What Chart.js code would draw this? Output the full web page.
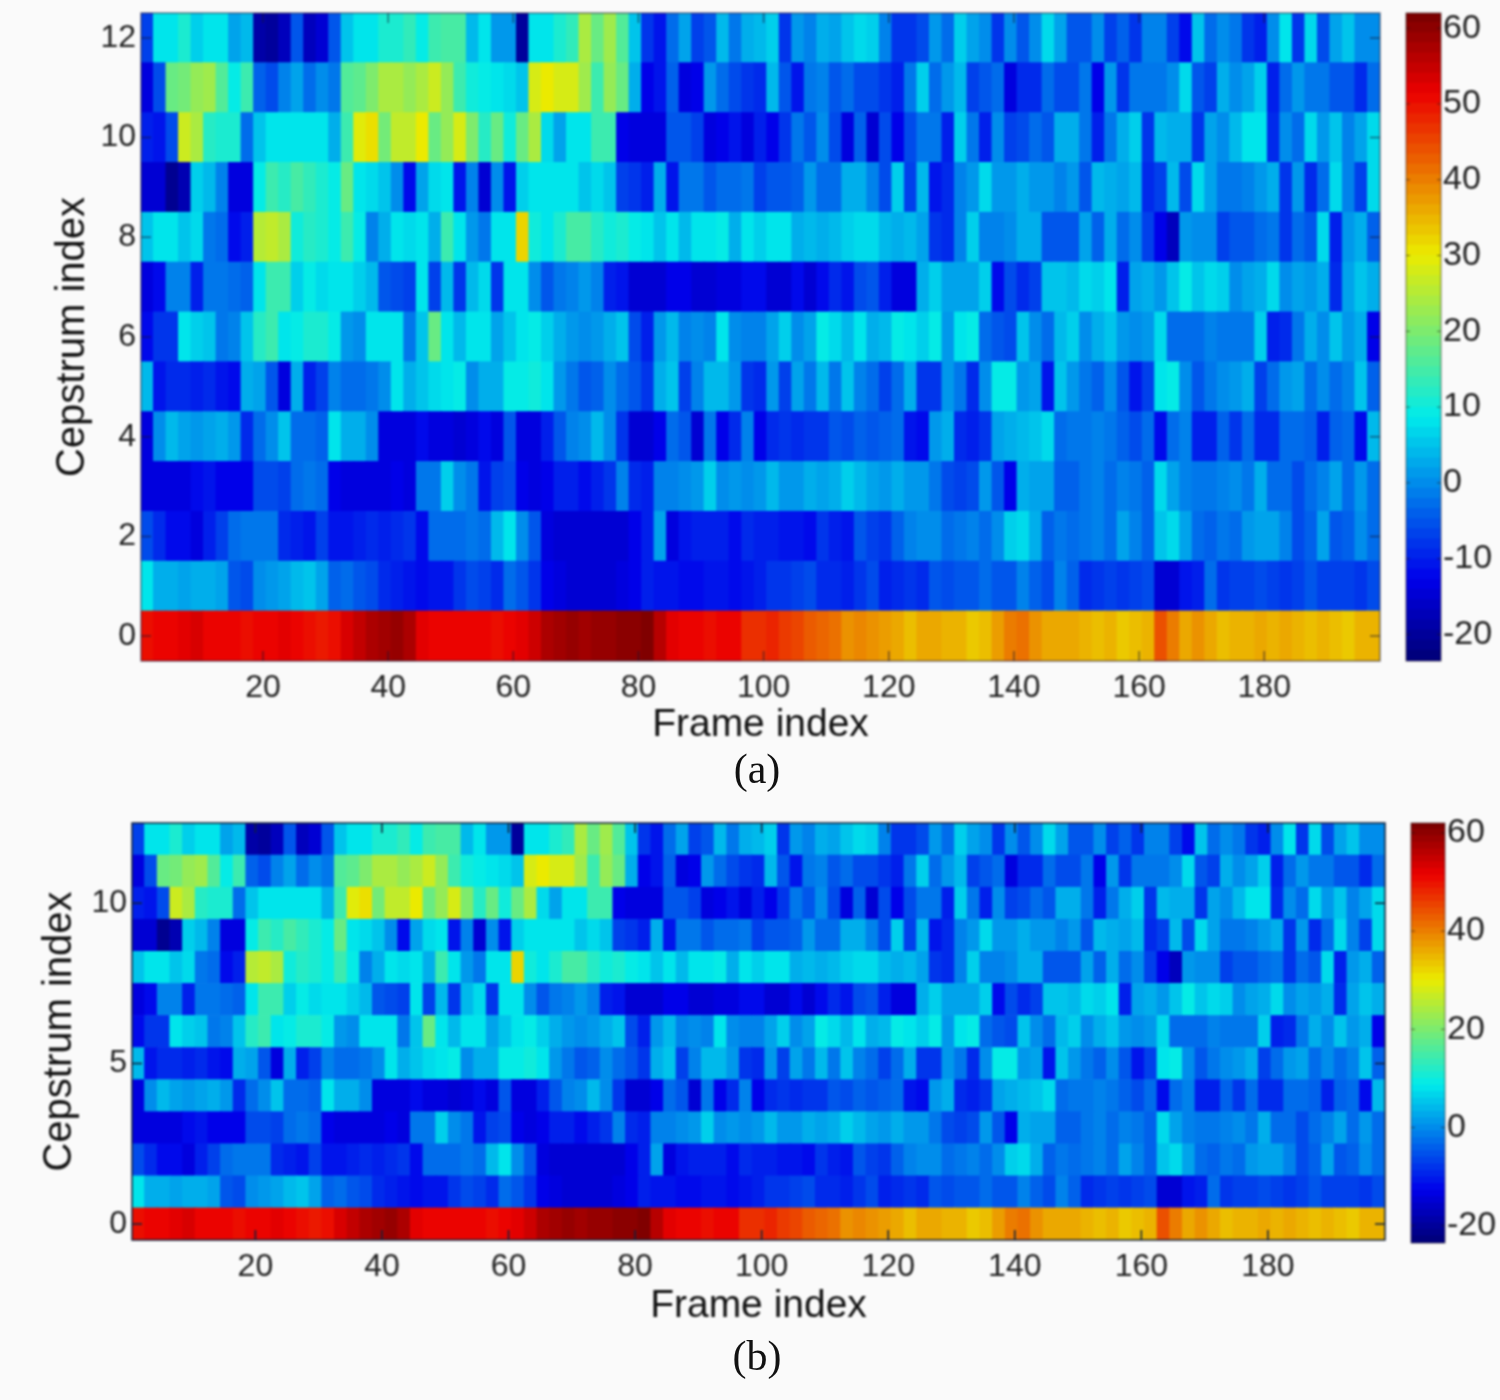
<!DOCTYPE html>
<html>
<head>
<meta charset="utf-8">
<title>Cepstrum</title>
<script src="https://cdn.jsdelivr.net/npm/chart.js@4/dist/chart.umd.js"></script>
<style>
  body { margin: 0; background: #fafafa; width: 1500px; height: 1400px; overflow: hidden; }
  canvas { position: absolute; filter: blur(0.9px); }
  .cap { position: absolute; font: 42px "Liberation Serif", serif; color: #111; width: 200px; text-align: center; line-height: 48px; filter: blur(0.5px); }
</style>
</head>
<body>
<canvas id="plotA" width="1400" height="800" style="left:0;top:0"></canvas>
<canvas id="barA" width="100" height="680" style="left:1400px;top:0"></canvas>
<canvas id="plotB" width="1400" height="620" style="left:0;top:780px"></canvas>
<canvas id="barB" width="100" height="460" style="left:1400px;top:800px"></canvas>
<div class="cap" style="left:657px;top:745px">(a)</div>
<div class="cap" style="left:657px;top:1332px">(b)</div>
<script>
'use strict';
// one column = two frames
const c12 = [-7,8,8,11,6,8,8,2,4,-19,-20,-17,-5,-17,-15,-5,5,8,8,11,11,13,9,14,15,
  15,4,8,1,1,-20,8,8,11,13,24,18,23,16,5,-8,-11,-3,2,-7,-5,4,-2,3,4,
  6,-8,1,-1,3,2,5,7,6,-1,-8,-8,-6,1,-3,6,2,0,-8,0,-5,0,7,2,-5,
  -5,0,-7,-4,-8,-1,-1,-7,-12,5,-3,0,-2,-8,-10,0,8,-8,7,-6,2,5,0,0];
const c11 = [-14,-6,18,19,22,23,16,9,14,-4,-6,-1,2,-3,0,-2,16,17,20,24,24,22,24,27,22,
  14,10,9,8,7,5,28,30,28,28,23,14,22,18,3,-13,-11,-4,-14,-13,1,-3,-6,-8,-9,
  4,-5,-11,-2,-1,-5,-3,-6,-6,-8,-10,-2,6,-3,1,4,-7,-5,-3,-14,-9,-9,-3,-6,-6,
  -2,-13,1,-8,-2,-2,-2,0,7,-5,-7,3,0,2,6,-10,-3,1,-2,-2,-5,-5,-9,-3];
const c10 = [-10,-11,-6,27,24,12,11,11,-3,5,8,8,8,8,8,3,14,29,31,19,26,26,30,18,22,
  28,20,12,18,10,18,24,7,2,8,8,14,14,-13,-14,-14,-14,-5,-5,-7,-14,-13,-11,-14,-10,
  -13,-8,-2,-5,0,-6,-14,-4,-15,-6,-13,-6,-2,-2,-10,6,-2,-10,0,-7,-6,-3,-5,3,3,
  -2,-10,-2,3,6,-8,4,3,3,-8,2,0,4,8,8,-9,0,-3,7,1,5,-1,2,7];
const c9 = [-15,-15,-21,-18,6,4,-1,-14,-14,9,14,12,15,13,11,9,18,8,7,5,0,-12,2,7,8,
  -11,-1,-15,0,-11,6,8,8,8,8,5,7,5,-7,-8,-10,3,-11,-2,-2,-5,-3,-3,-2,-7,
  -5,-5,-4,1,-3,-3,3,3,-1,-6,6,-7,4,-11,-9,-1,1,7,1,1,3,1,1,-1,1,
  -5,4,3,2,4,-9,-7,4,-6,7,2,-2,-2,-1,1,3,-8,1,-9,-3,7,-1,-7,7];
const c8 = [5,8,8,5,7,-2,-3,-12,-10,25,26,24,10,12,11,9,14,9,-1,3,8,7,8,3,14,
  8,1,-2,8,8,32,10,8,11,15,15,12,10,11,9,8,5,8,4,8,8,9,3,8,6,
  8,8,3,4,3,4,6,7,7,4,3,4,2,-8,-9,-1,6,-1,-1,0,3,3,-5,-5,-5,
  2,-4,3,-3,0,-7,-13,-17,1,0,0,-7,-5,-5,-3,-2,-8,-3,-5,7,-10,1,3,-4];
const c7 = [-14,-12,-1,-1,-10,-2,-2,-3,-4,8,14,14,6,9,7,8,8,6,4,-5,-6,-7,8,-7,4,
  -8,4,7,-8,8,8,0,-5,-2,-1,1,-1,-10,-11,-15,-15,-15,-13,-13,-15,-15,-14,-14,-12,-12,
  -15,-15,-12,-15,-12,-9,-11,-6,-5,-10,-14,-14,3,6,2,2,2,6,-12,-6,-9,-7,5,5,4,
  7,6,8,-10,2,3,1,5,9,5,7,6,0,2,3,7,0,2,1,3,-9,2,5,3];
const c6 = [-12,-8,-8,8,6,5,-2,-1,5,12,14,8,9,11,11,9,1,0,8,8,8,-2,5,18,8,
  4,8,8,2,5,8,9,6,3,1,0,1,3,5,-6,-10,1,4,-1,0,-1,8,0,-1,-1,
  2,6,0,2,9,7,4,8,3,4,9,8,6,9,1,8,9,-3,-5,-6,5,0,-3,4,6,
  0,3,5,1,0,1,7,-3,-3,-3,-1,-2,-2,-2,6,-10,-9,-2,3,0,5,1,3,-13];
const c5 = [4,-11,-9,-9,-10,-9,-11,-12,3,2,-5,-14,3,-10,-7,-1,-3,-3,-2,0,8,3,5,7,8,
  9,0,3,3,9,9,10,8,1,-2,-5,-4,0,-3,-5,-8,3,5,-7,-1,4,4,1,-8,-9,
  1,-7,2,-2,4,-2,5,-1,-3,-7,-3,3,-8,-8,1,-2,-9,0,9,9,1,2,-11,5,1,
  -2,-4,0,-5,-11,-7,8,9,0,-5,-2,0,1,3,-7,-3,1,2,-3,0,-3,-1,5,-4];
const c4 = [-14,0,4,2,1,2,3,1,-9,-3,0,5,-3,-3,-4,8,3,3,0,-14,-14,-14,-12,-14,-14,
  -15,-14,-12,-14,-5,-14,-14,-10,-5,-1,0,4,0,-8,-15,-15,-13,-3,-5,-15,-2,-13,-9,-1,-13,
  -9,-8,-9,-8,-8,-5,-6,-4,-5,-4,-3,-11,-12,1,3,-9,-10,-8,2,3,4,5,7,-3,-2,
  -2,-1,-2,-4,-6,-3,-12,-3,-1,-10,-10,-4,-8,-3,-9,-9,-3,-3,-4,-10,-4,-3,-12,4];
const c3 = [-14,-14,-14,-14,-12,-11,-13,-13,-13,-6,-6,-7,-3,-2,-3,-13,-14,-14,-14,-14,-13,-14,-2,-2,6,
  0,-2,-11,-7,-6,-13,-14,-13,-10,-10,-12,-10,-8,-1,-9,-10,-1,-1,0,1,6,0,1,0,1,
  4,1,1,3,2,3,6,4,2,1,3,1,1,-2,-6,-7,-6,1,-5,-13,3,2,2,-4,-4,
  -2,-1,-3,-1,-2,-4,7,2,-1,-2,-2,-1,0,-2,3,-3,-3,-6,-3,-1,2,-3,1,-3];
const c2 = [-6,-9,-12,-12,-14,-10,-7,-3,-2,-2,-2,-9,-10,-11,-7,-11,-11,-10,-9,-10,-9,-8,-12,-3,-3,
  -3,-2,-3,4,8,0,-5,-14,-15,-15,-15,-15,-15,-15,-13,-10,2,-14,-11,-10,-10,-10,-12,-9,-10,
  -10,-11,-11,-12,-8,-10,-11,-5,-7,-8,-4,-1,0,0,-3,-2,-1,-3,0,6,7,3,-4,-2,-3,
  -2,-1,-3,2,-1,-4,5,7,2,-3,-4,-2,-3,1,2,2,-1,-6,-4,2,-5,-4,0,-3];
const c1 = [8,3,3,2,3,3,2,-5,-6,0,1,2,4,5,2,-4,-3,-5,-6,-9,-10,-11,-12,-11,-11,
  -8,-6,-7,-9,-3,-5,-8,-13,-14,-15,-15,-15,-15,-14,-13,-10,-11,-11,-12,-12,-11,-11,-12,-11,-10,
  -8,-8,-7,-6,-9,-9,-10,-8,-6,-10,-9,-8,-9,-5,-6,-5,-5,-3,-5,-5,-1,-4,-6,-1,-4,
  -9,-8,-7,-8,-7,-6,-15,-15,-11,-10,-3,-8,-7,-7,-6,-7,-8,-7,-5,-7,-7,-7,-8,-6];
const c0 = [50,51,51,52,53,51,51,51,50,51,51,52,51,50,49,50,53,55,57,58,59,57,52,51,51,
  51,51,51,50,51,52,54,57,58,59,58,59,59,60,60,61,56,52,51,51,50,51,51,47,47,
  48,46,45,43,42,41,38,39,38,37,36,34,36,36,35,35,33,34,37,40,41,38,36,36,36,
  35,34,35,33,34,35,44,40,36,38,36,34,35,35,36,35,36,35,34,35,34,33,35,35];
const rows = [c0, c1, c2, c3, c4, c5, c6, c7, c8, c9, c10, c11, c12];

const frameTicks = [20, 40, 60, 80, 100, 120, 140, 160, 180];
const rowTicksA = [0, 2, 4, 6, 8, 10, 12];
const rowTicksB = [0, 5, 10];
const barTicksA = [-20, -10, 0, 10, 20, 30, 40, 50, 60];
const barTicksB = [-20, 0, 20, 40, 60];

const xTitle = 'Frame index';
const yTitle = 'Cepstrum index';
const tickFont = { family: '"Liberation Sans", Arial, sans-serif', size: 32 };
const titleFont = { family: '"Liberation Sans", Arial, sans-serif', size: 39 };
const inkColor = '#222';
const cMin = -23.5;
const cMax = 62;

// matlab jet, a little darker like the scanned picture
function jet(v) {
  let t = (v - cMin) / (cMax - cMin);
  t = Math.max(0, Math.min(1, t));
  const ch = (c) => Math.round(235 * Math.max(0, Math.min(1, 1.5 - Math.abs(4 * t - c))));
  return `rgb(${ch(3)},${ch(2)},${ch(1)})`;
}

// ticks point inwards, the library only draws them outwards
const insideTicks = {
  id: 'insideTicks',
  afterDatasetsDraw(chart, args, opts) {
    const ctx = chart.ctx;
    const a = chart.chartArea;
    ctx.save();
    ctx.strokeStyle = opts.color;
    ctx.lineWidth = opts.width;
    ctx.strokeRect(a.left, a.top, a.width, a.height);
    ctx.beginPath();
    if (chart.scales.x.options.display) {
      chart.scales.x.ticks.forEach((t) => {
        const x = chart.scales.x.getPixelForValue(t.value);
        ctx.moveTo(x, a.bottom); ctx.lineTo(x, a.bottom - opts.len);
        ctx.moveTo(x, a.top); ctx.lineTo(x, a.top + opts.len);
      });
    }
    chart.scales.y.ticks.forEach((t) => {
      const y = chart.scales.y.getPixelForValue(t.value);
      ctx.moveTo(a.left, y); ctx.lineTo(a.left + opts.len, y);
      ctx.moveTo(a.right, y); ctx.lineTo(a.right - opts.len, y);
    });
    ctx.stroke();
    ctx.restore();
  }
};

function noPadding(s) {
  s.paddingTop = 0;
  s.paddingBottom = 0;
  s.paddingLeft = 0;
  s.paddingRight = 0;
}

function heatDatasets() {
  return rows.map((vals, r) => ({
    grouped: false,
    barPercentage: 1.08,
    categoryPercentage: 1,
    backgroundColor: vals.map(jet),
    data: vals.map((v, i) => ({ x: 2 * i + 1.5, y: [r - 0.51, r + 0.51] }))
  }));
}

function heatmap(id, cfg) {
  new Chart(document.getElementById(id), {
    type: 'bar',
    data: { datasets: heatDatasets() },
    plugins: [insideTicks],
    options: {
      responsive: false,
      animation: false,
      layout: { padding: { top: cfg.top, right: cfg.right } },
      plugins: {
        legend: { display: false },
        tooltip: { enabled: false },
        insideTicks: { color: cfg.frame, width: 1.5, len: 10 }
      },
      scales: {
        x: {
          type: 'linear', min: 0.5, max: 198.5, offset: false,
          grid: { display: false, drawTicks: false },
          border: { display: false },
          afterBuildTicks(s) { s.ticks = frameTicks.map((v) => ({ value: v })); },
          afterFit(s) { s.height = cfg.xHeight; noPadding(s); },
          ticks: { font: tickFont, color: inkColor, padding: 8, maxRotation: 0 },
          title: { display: true, text: xTitle, font: titleFont, color: '#111', padding: { top: 0, bottom: cfg.xTitlePad } }
        },
        y: {
          type: 'linear', min: -0.5, max: 12.5,
          grid: { display: false, drawTicks: false },
          border: { display: false },
          afterBuildTicks(s) { s.ticks = cfg.rowTicks.map((v) => ({ value: v })); },
          afterFit(s) { s.width = cfg.left; noPadding(s); },
          ticks: { font: tickFont, color: inkColor, padding: 5 },
          title: { display: true, text: yTitle, font: { family: titleFont.family, size: 40 }, color: '#111', padding: { top: cfg.yTitlePad, bottom: 0 } }
        }
      }
    }
  });
}

function colorbar(id, cfg) {
  const bands = [];
  for (let i = 0; i < 64; i++) {
    const lo = cMin + (cMax - cMin) * i / 64;
    const hi = cMin + (cMax - cMin) * (i + 1) / 64;
    bands.push({
      grouped: false,
      barPercentage: 1,
      categoryPercentage: 1,
      backgroundColor: jet((lo + hi) / 2),
      data: [[lo - 0.1, hi + 0.1]]
    });
  }
  new Chart(document.getElementById(id), {
    type: 'bar',
    data: { labels: ['c'], datasets: bands },
    plugins: [insideTicks],
    options: {
      responsive: false,
      animation: false,
      layout: { padding: { left: cfg.left, top: cfg.top, bottom: cfg.bottom } },
      plugins: {
        legend: { display: false },
        tooltip: { enabled: false },
        insideTicks: { color: 'rgba(30,20,20,0.55)', width: 1, len: 4 }
      },
      scales: {
        x: { display: false },
        y: {
          position: 'right', min: cMin, max: cMax,
          grid: { display: false, drawTicks: false },
          border: { display: false },
          afterBuildTicks(s) { s.ticks = cfg.ticks.map((v) => ({ value: v })); },
          afterFit(s) { s.width = cfg.axis; noPadding(s); },
          ticks: { font: { family: tickFont.family, size: 34 }, color: inkColor, padding: 2 }
        }
      }
    }
  });
}

heatmap('plotA', { left: 141, top: 13, right: 20, xHeight: 139, xTitlePad: 51, yTitlePad: 49, rowTicks: rowTicksA, frame: 'rgba(20,20,50,0.55)' });
heatmap('plotB', { left: 132, top: 43, right: 15, xHeight: 160, xTitlePad: 70, yTitlePad: 36, rowTicks: rowTicksB, frame: '#10203a' });
colorbar('barA', { left: 6, top: 13, bottom: 19, axis: 59, ticks: barTicksA });
colorbar('barB', { left: 11, top: 23, bottom: 17, axis: 55, ticks: barTicksB });
</script>
</body>
</html>
